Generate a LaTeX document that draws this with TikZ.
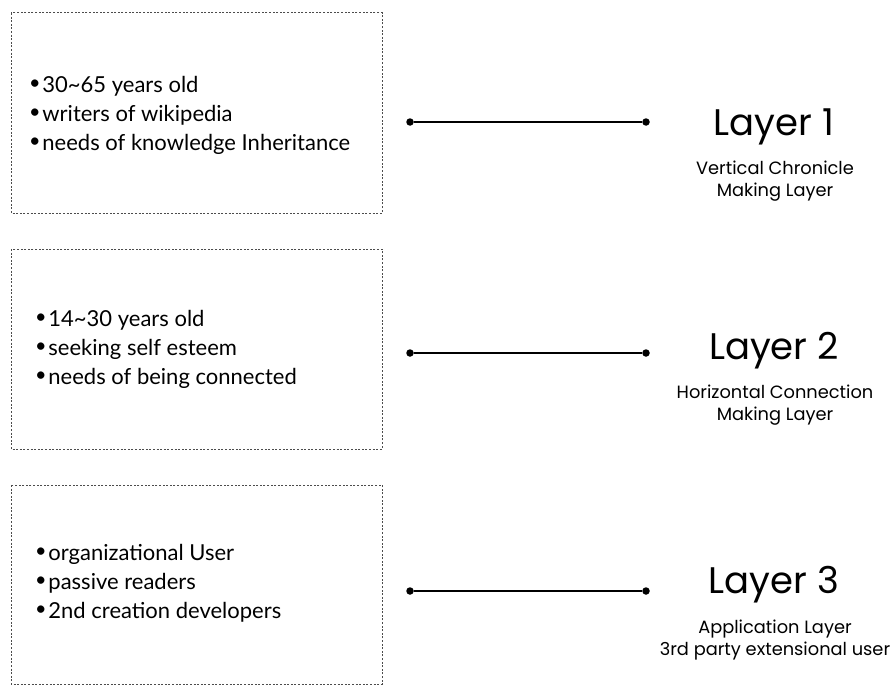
\documentclass[tikz,border=0pt]{standalone}
\usepackage{fontspec}
\setmainfont{Lato}
\newfontfamily\geofont{Poppins}
\begin{document}
\begin{tikzpicture}[x=1pt,y=-1pt,
  dbox/.style={draw=black!70,line width=1pt,dash pattern=on 2pt off 1.6pt},
  items/.style={anchor=west,align=left,font=\fontsize{22}{29}\selectfont,inner sep=0pt},
  ltitle/.style={font=\geofont\fontsize{37}{40}\selectfont,inner sep=0pt},
  lsub/.style={font=\geofont\fontsize{17.8}{22.5}\selectfont,align=center,inner sep=0pt},
  dotend/.style={circle,fill=black,inner sep=0pt,minimum size=7.5pt},
  conn/.style={line width=1.6pt}]
\useasboundingbox (0,0) rectangle (896,685);
\newcommand\bl{\raisebox{0.12em}{\scalebox{0.9}{\textbullet}}\hspace{0.08em}}
% boxes
\draw[dbox] (11,13) rectangle (382,213);
\draw[dbox] (11,249) rectangle (382,449);
\draw[dbox] (11,485) rectangle (382,684);
% texts
\node[items] (t1) at (29,115) {\bl 30\textasciitilde65 years old\\\bl writers of wikipedia\\\bl needs of knowledge Inheritance};
\node[items] (t2) at (35,349) {\bl 14\textasciitilde30 years old\\\bl seeking self esteem\\\bl needs of being connected};
\node[items] (t3) at (35,583) {\bl organizational User\\\bl passive readers\\\bl 2nd creation developers};
% connectors
\node[dotend] (a1) at (410,122) {};
\node[dotend] (b1) at (646,122) {};
\node[dotend] (a2) at (410,353) {};
\node[dotend] (b2) at (646,353) {};
\node[dotend] (a3) at (410,591) {};
\node[dotend] (b3) at (646,591) {};
\draw[conn] (a1) -- (b1);
\draw[conn] (a2) -- (b2);
\draw[conn] (a3) -- (b3);
% layer labels
\node[ltitle] (l1) at (774,127) {Layer 1};
\node[lsub] (s1) at (775,181) {Vertical Chronicle\\Making Layer};
\node[ltitle] (l2) at (774,351) {Layer 2};
\node[lsub] (s2) at (775,405) {Horizontal Connection\\Making Layer};
\node[ltitle] (l3) at (774,585) {Layer 3};
\node[lsub] (s3) at (775,640) {Application Layer\\3rd party extensional user};
\end{tikzpicture}
\end{document}
